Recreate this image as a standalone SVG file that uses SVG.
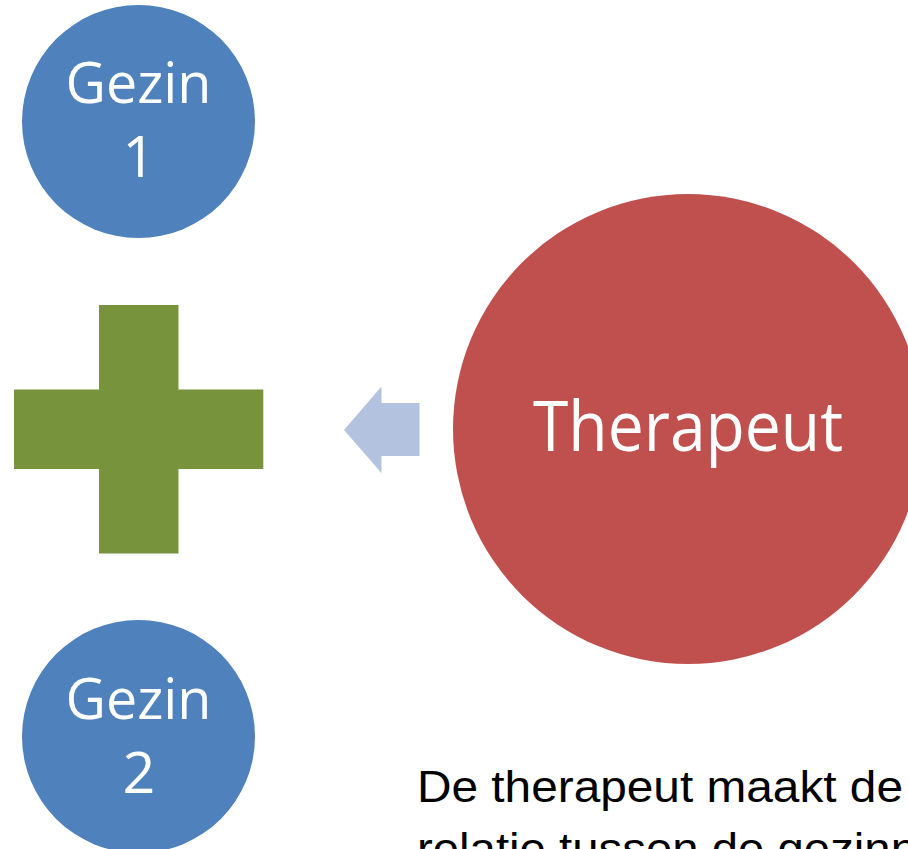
<svg xmlns="http://www.w3.org/2000/svg" width="908" height="849" viewBox="0 0 908 849">
  <style>
    .lbl { font-family: "Open Sans", "Noto Sans", "Liberation Sans", sans-serif; fill: #ffffff; text-anchor: middle; }
    .body { font-family: "Liberation Sans", "DejaVu Sans", sans-serif; fill: #000000; font-size: 44.7px; }
    .blue { fill: #4F81BD; }
    .red { fill: #C0504D; }
    .green { fill: #77933C; }
    .arrow { fill: #B3C2DE; }
  </style>
  <rect x="0" y="0" width="908" height="849" fill="#ffffff"/>
  <g id="gezin1">
    <circle class="blue" cx="138.5" cy="121.5" r="116.5"/>
    <text class="lbl" x="138.5" y="103" font-size="57.4" textLength="146" lengthAdjust="spacingAndGlyphs">Gezin</text>
    <text class="lbl" x="139" y="177" font-size="57.4">1</text>
  </g>
  <g id="plus">
    <path class="green" d="M99,305 H178.5 V389.5 H263.3 V469 H178.5 V553.5 H99 V469 H14 V389.5 H99 Z"/>
  </g>
  <g id="connectors">
    <path class="arrow" d="M344,430 L381.5,386.5 V403 H419.5 V456 H381.5 V473 Z"/>
  </g>
  <g id="therapeut">
    <circle class="red" cx="688" cy="429" r="235"/>
    <text class="lbl" x="688" y="451" font-size="68.6" textLength="310" lengthAdjust="spacingAndGlyphs">Therapeut</text>
  </g>
  <g id="gezin2">
    <circle class="blue" cx="138.5" cy="736.5" r="116.5"/>
    <text class="lbl" x="138.5" y="719" font-size="57.4" textLength="146" lengthAdjust="spacingAndGlyphs">Gezin</text>
    <text class="lbl" x="139" y="793" font-size="57.4">2</text>
  </g>
  <g id="caption">
    <text class="body" x="417" y="802" textLength="486" lengthAdjust="spacingAndGlyphs">De therapeut maakt de</text>
    <text class="body" x="417" y="864" textLength="500" lengthAdjust="spacingAndGlyphs">relatie tussen de gezinn</text>
  </g>
</svg>
